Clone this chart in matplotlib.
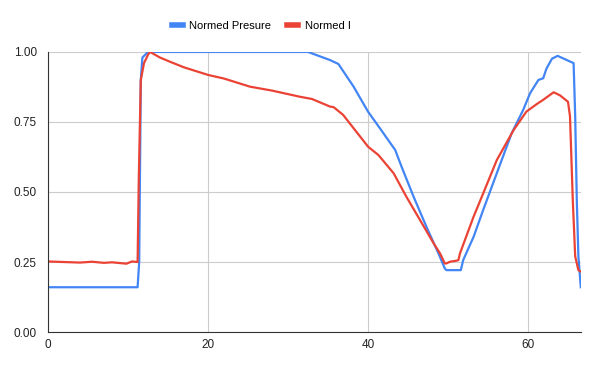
import matplotlib.pyplot as plt

plt.rcParams['font.family'] = ['Liberation Sans', 'DejaVu Sans']

# Normed Presure
p_x = [0, 11.2, 11.4, 11.6, 11.8, 12.5, 20, 32.5, 35.25, 36.3, 38.2, 40.0, 41.5, 43.4,
       44.2, 45.7, 47.3, 48.8, 49.6, 49.8, 51.6, 51.9, 53.2, 54.4, 56.1, 57.96, 59.4,
       60.25, 61.3, 61.9, 62.3, 63.0, 63.7, 65.7, 65.9, 66.1, 66.3, 66.6]
p_y = [0.16, 0.16, 0.25, 0.90, 0.98, 1.00, 1.00, 1.00, 0.971, 0.957, 0.876, 0.787, 0.727, 0.65,
       0.59, 0.483, 0.376, 0.281, 0.227, 0.221, 0.221, 0.257, 0.34, 0.436, 0.567, 0.71, 0.793,
       0.852, 0.90, 0.906, 0.94, 0.976, 0.986, 0.96, 0.77, 0.47, 0.27, 0.16]

# Normed I
i_x = [0, 2, 4, 5.5, 7, 8, 9.8, 10.5, 11.2, 11.35, 11.6, 12.0, 12.5, 12.75, 14, 15.25, 17,
       20.0, 22, 25.25, 28, 31.5, 33, 35.25, 35.7, 36.9, 40.0, 41.3, 43.2, 44.8, 46.5,
       48.2, 49.0, 49.6, 49.8, 50.25, 51.1, 51.3, 51.5, 53.2, 54.4, 56.1, 58.2, 59.8,
       61.1, 61.9, 63.2, 64.0, 65.0, 65.25, 65.6, 65.9, 66.3, 66.6]
i_y = [0.252, 0.25, 0.248, 0.251, 0.247, 0.249, 0.244, 0.252, 0.25, 0.55, 0.90, 0.96, 0.99, 1.0,
       0.98, 0.965, 0.945, 0.918, 0.905, 0.876, 0.862, 0.84, 0.832, 0.805, 0.803, 0.775,
       0.662, 0.632, 0.567, 0.483, 0.40, 0.317, 0.281, 0.245, 0.245, 0.251, 0.255, 0.257,
       0.281, 0.412, 0.495, 0.614, 0.721, 0.787, 0.814, 0.829, 0.856, 0.845, 0.822, 0.77,
       0.47, 0.27, 0.221, 0.216]

x_ticks = [0, 20, 40, 60]
y_ticks = [0.0, 0.25, 0.5, 0.75, 1.0]

fig = plt.figure(figsize=(6, 3.71), dpi=100)
ax = fig.add_axes([0.08, 0.105, 0.888, 0.755])

ax.plot(p_x, p_y, color='#4285F4', lw=1.6, label='Normed Presure')
ax.plot(i_x, i_y, color='#EA4335', lw=1.6, label='Normed I')

ax.set_xlim(0, 66.6)
ax.set_ylim(0, 1.0)
ax.set_xticks(x_ticks)
ax.set_yticks(y_ticks)
ax.set_yticklabels(['%.2f' % v for v in y_ticks])
ax.grid(True, color='#cccccc', lw=0.8)
ax.set_axisbelow(True)
for s in ['top', 'right']:
    ax.spines[s].set_visible(False)
for s in ['left', 'bottom']:
    ax.spines[s].set_color('#333333')
ax.tick_params(length=0, labelsize=8.5, colors='#222222')
ax.tick_params(axis='y', pad=8)
ax.tick_params(axis='x', pad=5)

fig.legend(*ax.get_legend_handles_labels(), loc='center', bbox_to_anchor=(0.435, 0.93),
           ncol=2, frameon=False, fontsize=8, handlelength=1.0, handletextpad=0.6,
           columnspacing=1.4)
for ln in fig.legends[0].get_lines():
    ln.set_linewidth(4)

fig.savefig('out.png', dpi=100)
